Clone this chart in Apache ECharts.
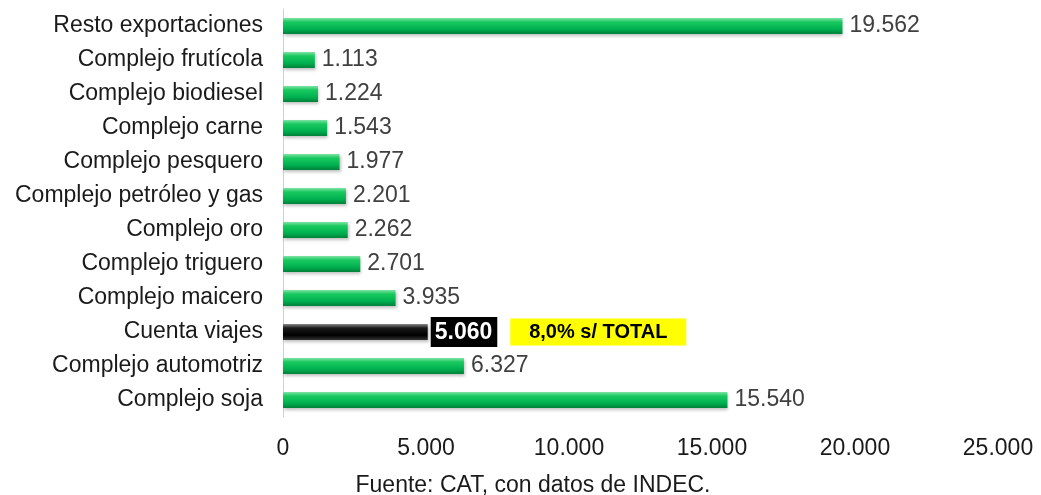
<!DOCTYPE html>
<html>
<head>
<meta charset="utf-8">
<script src="https://cdn.jsdelivr.net/npm/echarts@6/dist/echarts.min.js"></script>
<style>
  html, body { margin: 0; padding: 0; background: #fff; }
  #chart { width: 1041px; height: 495px; }
</style>
</head>
<body>
<div id="chart"></div>
<script>
var categories = ['Resto exportaciones', 'Complejo frutícola', 'Complejo biodiesel', 'Complejo carne',
  'Complejo pesquero', 'Complejo petróleo y gas', 'Complejo oro', 'Complejo triguero',
  'Complejo maicero', 'Cuenta viajes', 'Complejo automotriz', 'Complejo soja']
var values = [19562, 1113, 1224, 1543, 1977, 2201, 2262, 2701, 3935, 5060, 6327, 15540]
var highlight = 'Cuenta viajes'
var highlightNote = '8,0% s/ TOTAL'
var xTicks = [0, 5000, 10000, 15000, 20000, 25000]
var source = 'Fuente: CAT, con datos de INDEC.'

var font = '"Liberation Sans", Arial, sans-serif'
var green = new echarts.graphic.LinearGradient(0, 0, 0, 1, [
  { offset: 0, color: '#7fe3a5' },
  { offset: 0.25, color: '#19c95f' },
  { offset: 0.7, color: '#00b04f' },
  { offset: 1, color: '#00803a' }
])
var black = new echarts.graphic.LinearGradient(0, 0, 0, 1, [
  { offset: 0, color: '#8a8a8a' },
  { offset: 0.25, color: '#1a1a1a' },
  { offset: 0.7, color: '#000000' },
  { offset: 1, color: '#333333' }
])

function fmt (v) {
  return String(v).replace(/\B(?=(\d{3})+(?!\d))/g, '.')
}

var seriesData = values.map(function (v, i) {
  if (categories[i] === highlight) {
    return {
      value: v,
      itemStyle: { color: black },
      label: {
        distance: 3,
        formatter: '{a|' + fmt(v) + '}{gap|}{b|' + highlightNote + '}',
        rich: {
          a: { color: '#fff', backgroundColor: '#000', fontWeight: 'bold', fontSize: 23,
            fontFamily: font, padding: [4, 5, 3, 4] },
          gap: { width: 13 },
          b: { color: '#000', backgroundColor: '#ffff00', fontWeight: 'bold', fontSize: 20,
            fontFamily: font, width: 176, height: 27, align: 'center' }
        }
      }
    }
  }
  return { value: v, itemStyle: { color: green } }
})

var chart = echarts.init(document.getElementById('chart'))
chart.setOption({
  animation: false,
  backgroundColor: '#fff',
  grid: { left: 283, right: 43, top: 9, bottom: 78 },
  title: {
    text: source,
    left: 528,
    textAlign: 'center',
    top: 469,
    textStyle: { fontSize: 23, fontWeight: 'normal', color: '#1a1a1a', fontFamily: font }
  },
  xAxis: {
    type: 'value',
    min: xTicks[0],
    max: xTicks[xTicks.length - 1],
    interval: xTicks[1] - xTicks[0],
    axisLine: { show: false },
    axisTick: { show: false },
    splitLine: { show: false },
    axisLabel: {
      margin: 20,
      fontSize: 23,
      color: '#1a1a1a',
      fontFamily: font,
      formatter: function (v) { return fmt(v) }
    }
  },
  yAxis: {
    type: 'category',
    inverse: true,
    data: categories,
    axisLine: { show: true, lineStyle: { color: '#d0d0d0', width: 1 } },
    axisTick: { show: false },
    axisLabel: {
      margin: 20,
      fontSize: 23,
      color: '#1a1a1a',
      fontFamily: font
    }
  },
  series: [{
    type: 'bar',
    data: seriesData,
    barWidth: 16,
    itemStyle: {
      shadowColor: 'rgba(0,0,0,0.25)',
      shadowBlur: 3,
      shadowOffsetX: 1,
      shadowOffsetY: 2
    },
    label: {
      show: true,
      position: 'right',
      distance: 7,
      fontSize: 23,
      color: '#404040',
      fontFamily: font,
      formatter: function (p) { return fmt(p.value) }
    }
  }]
})
</script>
</body>
</html>
